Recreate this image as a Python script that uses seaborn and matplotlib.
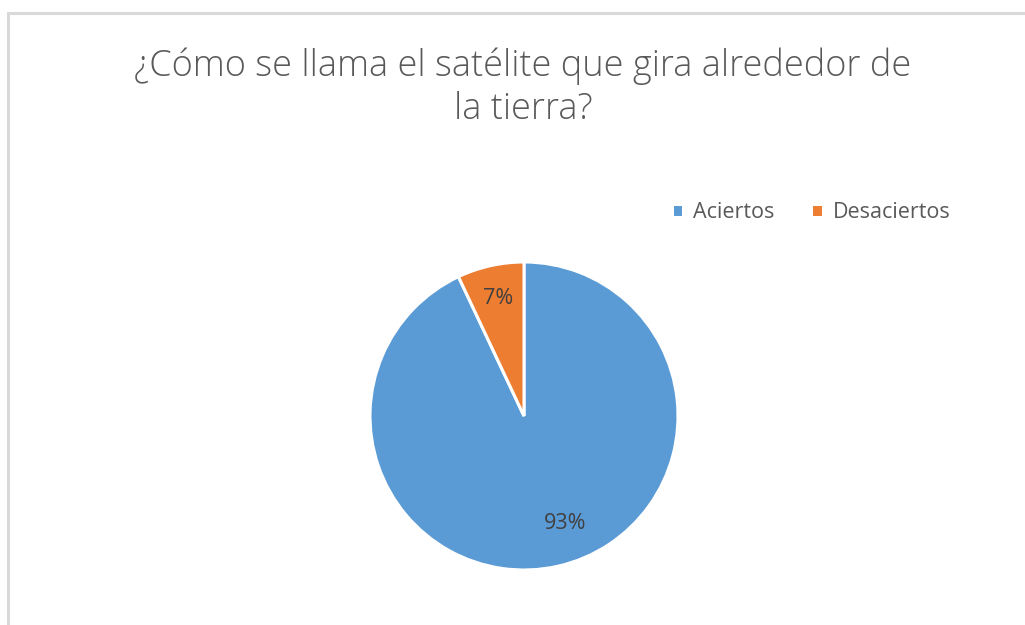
import matplotlib
matplotlib.use("Agg")
import matplotlib.pyplot as plt
import seaborn as sns

categories = ["Aciertos", "Desaciertos"]
values = [93, 7]
title_text = "¿Cómo se llama el satélite que gira alrededor de\nla tierra?"

sns.set_theme(style="white")
plt.rcParams["font.family"] = ["Open Sans", "DejaVu Sans"]

colors = ["#5B9BD5", "#ED7D31"]
text_gray = "#595959"

W, H = 1025, 625
fig = plt.figure(figsize=(W / 100, H / 100), dpi=100)
fig.patch.set_facecolor("white")

# chart-area frame: left and top edges
fig.add_artist(plt.Line2D([8.0 / W, 8.0 / W], [0, 1 - 13 / H], color="#D9D9D9", lw=2.2,
                          transform=fig.transFigure))
fig.add_artist(plt.Line2D([8.0 / W, 1], [1 - 13 / H, 1 - 13 / H], color="#D9D9D9", lw=2.2,
                          transform=fig.transFigure))

# pie axes
cx, cy, r = 524, 416, 154
ax = fig.add_axes([(cx - r) / W, (H - cy - r) / H, 2 * r / W, 2 * r / H])
wedges, texts, autotexts = ax.pie(
    values,
    colors=colors,
    startangle=90,
    counterclock=False,
    autopct="%1.0f%%",
    pctdistance=0.78,
    wedgeprops=dict(edgecolor="white", linewidth=2.2),
    textprops=dict(color="#404040", fontsize=15.5),
)
# the large slice's label sits a little off its bisector
autotexts[0].set_position((0.265, -0.695))
ax.set_xlim(-1, 1)
ax.set_ylim(-1, 1)
ax.set_aspect("equal")
ax.axis("off")

fig.text(523 / W, 1 - 88 / H, title_text, ha="center", va="center", fontsize=26,
         color=text_gray, fontweight="light", linespacing=1.2)

fig.legend(wedges, categories, loc="center", bbox_to_anchor=(811 / W, 1 - 213 / H),
           ncol=2, frameon=False, fontsize=15.5, labelcolor=text_gray,
           handlelength=0.55, handleheight=0.55, handletextpad=0.45, columnspacing=1.7)

fig.savefig("out.png", dpi=100, facecolor="white")
